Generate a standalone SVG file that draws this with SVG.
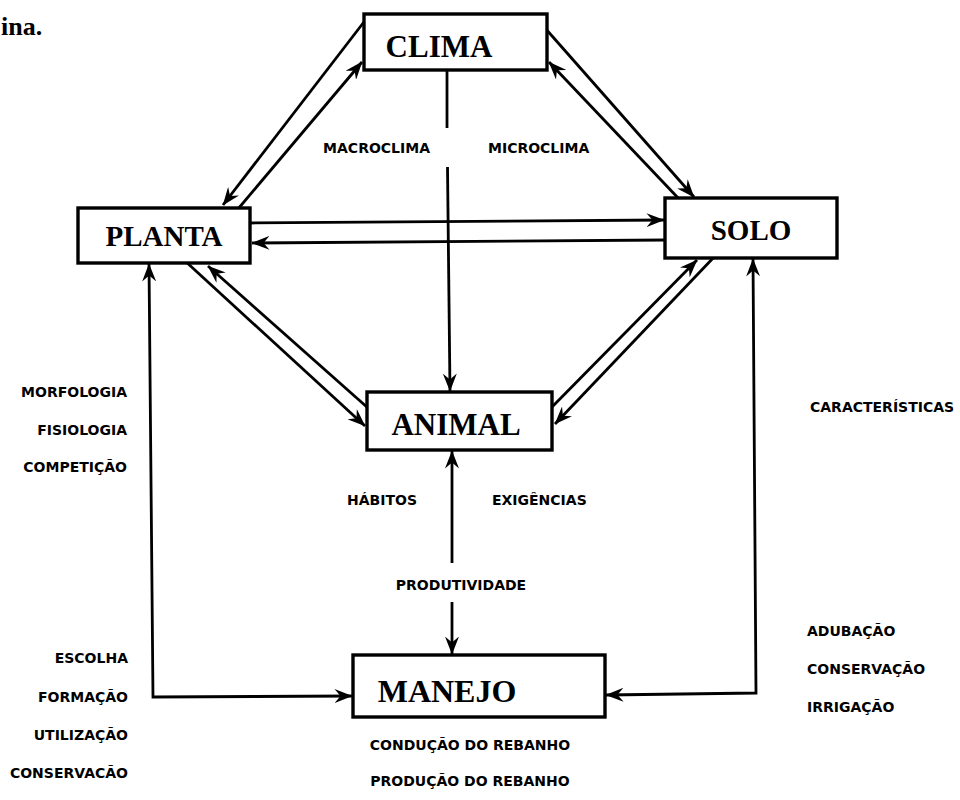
<svg xmlns="http://www.w3.org/2000/svg" width="960" height="800" viewBox="0 0 960 800">
<style>
.box{fill:#fff;stroke:#000;stroke-width:3.4}
.big{font-family:"Liberation Serif","Times New Roman",serif;font-weight:bold;text-anchor:middle;fill:#000}
.lbl{font-family:"DejaVu Sans","Liberation Sans",sans-serif;font-weight:bold;font-size:14px;fill:#000}
.r{text-anchor:end}
.m{text-anchor:middle}
.c{fill:none;stroke:#000;stroke-width:2.8}
</style>
<defs>
<marker id="ah" viewBox="0 0 18 14" refX="17.5" refY="7" markerWidth="18" markerHeight="14" markerUnits="userSpaceOnUse" orient="auto-start-reverse">
<path d="M0,0 L18,7 L0,14 L6,7 z" fill="#000"/>
</marker>
</defs>
<rect width="960" height="800" fill="#fff"/>
<text x="1" y="35" font-family="Liberation Serif,serif" font-weight="bold" font-size="26">ina.</text>

<g id="connectors">
<!-- CLIMA - PLANTA -->
<path class="c" d="M367,18 L223,205" marker-end="url(#ah)"/>
<path class="c" d="M238,209 L362,62" marker-end="url(#ah)"/>
<!-- CLIMA - SOLO -->
<path class="c" d="M545,28 L694,197" marker-end="url(#ah)"/>
<path class="c" d="M680,200 L549,62" marker-end="url(#ah)"/>
<!-- PLANTA - SOLO -->
<path class="c" d="M250,223 L664,220" marker-end="url(#ah)"/>
<path class="c" d="M666,240 L252,243" marker-end="url(#ah)"/>
<!-- PLANTA - ANIMAL -->
<path class="c" d="M184,260 L365,426" marker-end="url(#ah)"/>
<path class="c" d="M368,408 L208,266" marker-end="url(#ah)"/>
<!-- SOLO - ANIMAL -->
<path class="c" d="M550,409 L697,260" marker-end="url(#ah)"/>
<path class="c" d="M716,255 L555,424" marker-end="url(#ah)"/>
<!-- CLIMA - ANIMAL -->
<path class="c" d="M447,70 L447,128"/>
<path class="c" d="M447.5,167 L450,391" marker-end="url(#ah)"/>
<!-- ANIMAL - MANEJO -->
<path class="c" d="M452,563 L452,451" marker-end="url(#ah)"/>
<path class="c" d="M452,602 L452,654" marker-end="url(#ah)"/>
<!-- PLANTA - MANEJO -->
<path class="c" d="M149,264 L153,697 L352,696" marker-start="url(#ah)" marker-end="url(#ah)"/>
<!-- SOLO - MANEJO -->
<path class="c" d="M753,259 L756,693 L606,695" marker-start="url(#ah)" marker-end="url(#ah)"/>
</g>

<g id="clima"><rect class="box" x="364" y="14" width="183" height="56"/><text class="big" x="439" y="57" font-size="31">CLIMA</text></g>
<g id="planta"><rect class="box" x="78" y="208" width="172" height="55"/><text class="big" x="164" y="246" font-size="29">PLANTA</text></g>
<g id="solo"><rect class="box" x="665" y="198" width="172" height="60"/><text class="big" x="751" y="240" font-size="29">SOLO</text></g>
<g id="animal"><rect class="box" x="367" y="392" width="185" height="58"/><text class="big" x="456" y="435" font-size="31">ANIMAL</text></g>
<g id="manejo"><rect class="box" x="353" y="655" width="252" height="62"/><text class="big" x="447" y="702" font-size="32">MANEJO</text></g>

<g id="labels">
<text class="lbl r" x="430" y="153">MACROCLIMA</text>
<text class="lbl" x="488" y="153">MICROCLIMA</text>
<text class="lbl r" x="127" y="397">MORFOLOGIA</text>
<text class="lbl r" x="127" y="435">FISIOLOGIA</text>
<text class="lbl r" x="127" y="472">COMPETIÇÃO</text>
<text class="lbl" x="810" y="412">CARACTERÍSTICAS</text>
<text class="lbl" x="347" y="505">HÁBITOS</text>
<text class="lbl" x="492" y="505">EXIGÊNCIAS</text>
<text class="lbl m" x="461" y="590">PRODUTIVIDADE</text>
<text class="lbl r" x="128" y="663">ESCOLHA</text>
<text class="lbl r" x="128" y="702">FORMAÇÃO</text>
<text class="lbl r" x="128" y="740">UTILIZAÇÃO</text>
<text class="lbl r" x="128" y="778">CONSERVACÃO</text>
<text class="lbl m" x="470" y="750" font-size="13.3">CONDUÇÃO DO REBANHO</text>
<text class="lbl m" x="470" y="786" font-size="13.3">PRODUÇÃO DO REBANHO</text>
<text class="lbl" x="807" y="636">ADUBAÇÃO</text>
<text class="lbl" x="807" y="674">CONSERVAÇÃO</text>
<text class="lbl" x="807" y="712">IRRIGAÇÃO</text>
</g>
</svg>
